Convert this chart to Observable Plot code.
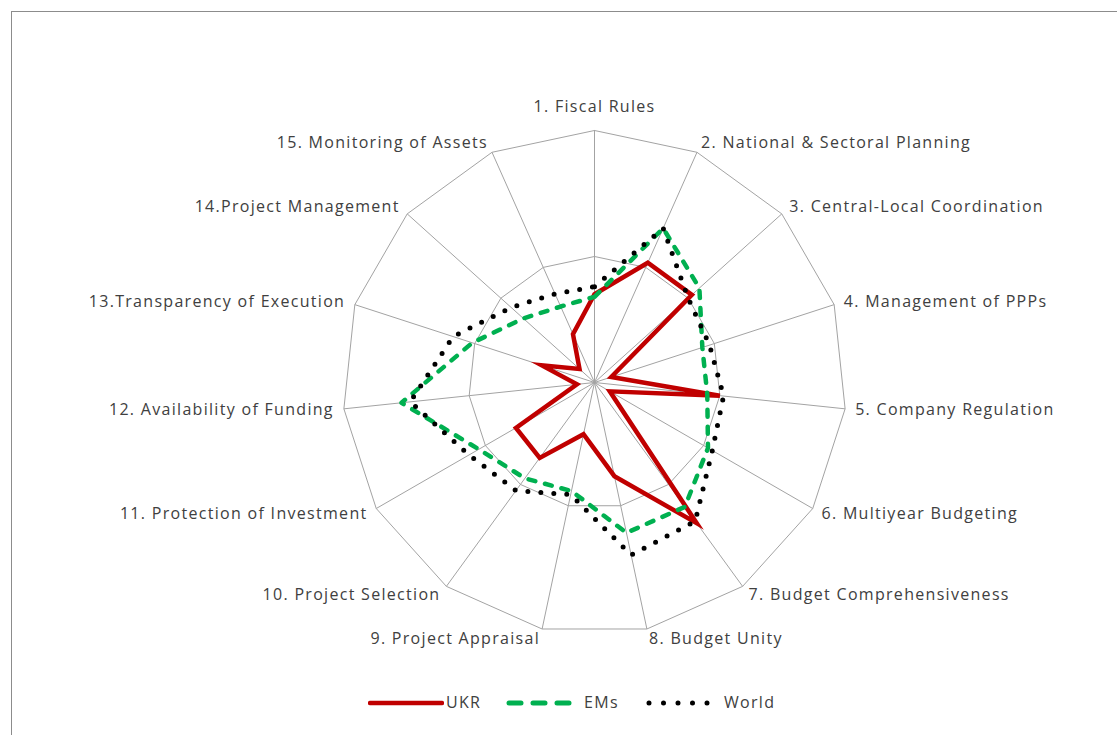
<!DOCTYPE html>
<html>
<head>
<meta charset="utf-8">
<script src="https://cdn.jsdelivr.net/npm/d3@7"></script>
<script src="https://cdn.jsdelivr.net/npm/@observablehq/plot@0.6"></script>
<style>
  html, body { margin: 0; padding: 0; background: #fff; }
  body { width: 1117px; height: 735px; position: relative; overflow: hidden; font-family: "Open Sans", sans-serif; }
  #frame { position: absolute; left: 11px; top: 11px; width: 1120px; height: 740px; border: 1px solid #8c8c8c; box-sizing: border-box; }
  #chart { position: absolute; left: 0; top: 0; }
  #chart text { letter-spacing: 1.3px; }
  .lg { position: absolute; top: 692px; height: 22px; }
  .lgt { position: absolute; top: 691px; font-size: 16px; color: #404040; letter-spacing: 1.3px; line-height: 22px; }
</style>
</head>
<body>
<div id="frame"></div>
<div id="chart"></div>
<svg class="lg" style="left:368px" width="76" height="22"><line x1="2" x2="74" y1="11" y2="11" stroke="#c00000" stroke-width="4.5" stroke-linecap="round"/></svg>
<div class="lgt" style="left:446px">UKR</div>
<svg class="lg" style="left:503px" width="72" height="22"><line x1="6" x2="66" y1="11" y2="11" stroke="#00b050" stroke-width="5" stroke-dasharray="12 12" stroke-linecap="round"/></svg>
<div class="lgt" style="left:584px">EMs</div>
<svg class="lg" style="left:646px" width="64" height="22"><line x1="3" x2="62" y1="11" y2="11" stroke="#000" stroke-width="5" stroke-dasharray="0 14.5" stroke-linecap="round"/></svg>
<div class="lgt" style="left:724px">World</div>
<script>
// Axis categories (clockwise from top)
const categories = [
  "1. Fiscal Rules",
  "2. National & Sectoral Planning",
  "3. Central-Local Coordination",
  "4. Management of PPPs",
  "5. Company Regulation",
  "6. Multiyear Budgeting",
  "7. Budget Comprehensiveness",
  "8. Budget Unity",
  "9. Project Appraisal",
  "10. Project Selection",
  "11. Protection of Investment",
  "12. Availability of Funding",
  "13.Transparency of Execution",
  "14.Project Management",
  "15. Monitoring of Assets"
];
// Series values (0..1 scale)
const ukrValues   = [0.35, 0.52, 0.52, 0.07, 0.50, 0.07, 0.69, 0.38, 0.21, 0.37, 0.36, 0.07, 0.22, 0.08, 0.21];
const emsValues   = [0.34, 0.67, 0.56, 0.45, 0.45, 0.52, 0.61, 0.61, 0.44, 0.47, 0.53, 0.77, 0.51, 0.38, 0.33];
const worldValues = [0.38, 0.67, 0.50, 0.48, 0.515, 0.54, 0.68, 0.70, 0.455, 0.53, 0.575, 0.735, 0.59, 0.445, 0.385];
// Grid ring levels
const ringLevels = [0.5, 1];
const labelRadius = 1.04;

const n = categories.length;
const ang = i => 2 * Math.PI * i / n;
const px = d => d.v * Math.sin(ang(d.i));
const py = d => d.v * Math.cos(ang(d.i));

const closed = (vals, name) => vals.concat([vals[0]]).map((v, k) => ({ series: name, v, i: k % n }));
const ukrData = closed(ukrValues, "UKR");
const emsData = closed(emsValues, "EMs");
const worldData = closed(worldValues, "World");

const ringData = ringLevels.flatMap(l => d3.range(n + 1).map(k => ({ l, v: l, i: k % n })));
const spokeData = d3.range(n).map(i => ({ i, v: 1 }));
const labelData = categories.map((c, i) => ({ c, i, v: labelRadius }));

const W = 1117, H = 670, CX = 594, CY = 382, R = 252;

const chart = Plot.plot({
  width: W,
  height: H,
  margin: 0,
  x: { domain: [-CX / R, (W - CX) / R], axis: null },
  y: { domain: [-(H - CY) / R, CY / R], axis: null },
  style: { fontFamily: "'Open Sans', sans-serif", fontSize: "16px", background: "transparent" },
  marks: [
    Plot.line(ringData, { x: px, y: py, z: "l", stroke: "#a3a3a3", strokeWidth: 1, strokeLinejoin: "miter" }),
    Plot.link(spokeData, { x1: () => 0, y1: () => 0, x2: px, y2: py, stroke: "#a3a3a3", strokeWidth: 1 }),
    Plot.line(ukrData, { x: px, y: py, stroke: "#c00000", strokeWidth: 4.5, strokeLinejoin: "miter", strokeMiterlimit: 10 }),
    Plot.line(emsData, { x: px, y: py, stroke: "#00b050", strokeWidth: 4.5, strokeDasharray: "7 10", strokeLinecap: "round", strokeLinejoin: "round" }),
    Plot.line(worldData, { x: px, y: py, stroke: "#000", strokeWidth: 5, strokeDasharray: "0 13", strokeLinecap: "round", strokeLinejoin: "round" }),
    Plot.text(labelData.filter(d => d.i === 0), { x: px, y: py, text: "c", textAnchor: "middle", lineAnchor: "bottom", dy: -8, fill: "#404040" }),
    Plot.text(labelData.filter(d => d.i > 0 && d.i <= 7), { x: px, y: py, text: "c", textAnchor: "start", lineAnchor: "middle", fill: "#404040" }),
    Plot.text(labelData.filter(d => d.i > 7), { x: px, y: py, text: "c", textAnchor: "end", lineAnchor: "middle", fill: "#404040" })
  ]
});
document.getElementById("chart").appendChild(chart);
</script>
</body>
</html>
